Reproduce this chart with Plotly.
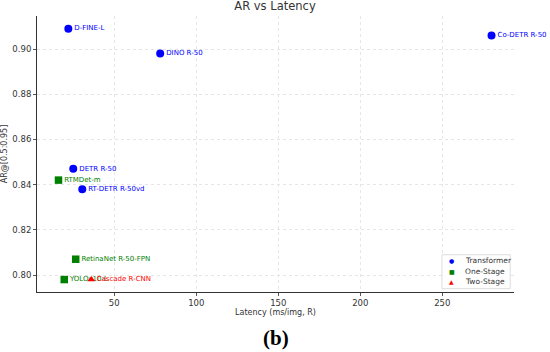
import plotly.graph_objects as go

# Data
tr_names = ["D-FINE-L", "DINO R-50", "Co-DETR R-50", "DETR R-50", "RT-DETR R-50vd"]
tr_lat = [22, 78, 280, 25, 30.5]
tr_ar = [0.909, 0.898, 0.906, 0.847, 0.838]

os_names = ["RTMDet-m", "RetinaNet R-50-FPN", "YOLOv10-L"]
os_lat = [16, 26.5, 19.5]
os_ar = [0.842, 0.807, 0.798]

ts_names = ["Cascade R-CNN"]
ts_lat = [36]
ts_ar = [0.798]

legend_labels = ["Transformer", "One-Stage", "Two-Stage"]
legend_symbols = ["●", "■", "▲"]
legend_colors = ["#0000ff", "#008000", "#ff0000"]

x_ticks = [50, 100, 150, 200, 250]
y_ticks = [0.80, 0.82, 0.84, 0.86, 0.88, 0.90]

FONT = "DejaVu Sans"
fig = go.Figure()

def add(names, xs, ys, color, symbol, size, label):
    fig.add_trace(go.Scatter(
        x=xs, y=ys, mode="markers+text", name=label,
        text=names, textposition="middle right",
        textfont=dict(family=FONT, size=7, color=color),
        marker=dict(color=color, symbol=symbol, size=size, line=dict(width=0)),
        cliponaxis=False, showlegend=False,
    ))

add(tr_names, tr_lat, tr_ar, legend_colors[0], "circle", 8, legend_labels[0])
add(os_names, os_lat, os_ar, legend_colors[1], "square", 7.5, legend_labels[1])
add(ts_names, ts_lat, ts_ar, legend_colors[2], "triangle-up", 7, legend_labels[2])

axis_common = dict(
    showgrid=True, gridcolor="#e6e6e6", griddash="dot", gridwidth=0.8,
    zeroline=False, showline=True, linecolor="#333333", linewidth=1,
    ticks="outside", ticklen=3, tickcolor="#555555",
    tickfont=dict(family=FONT, size=8.5, color="#333333"),
    mirror=False, automargin=False,
)

fig.update_layout(
    width=550, height=352,
    margin=dict(l=37, r=36, t=16, b=60),
    paper_bgcolor="white", plot_bgcolor="white",
    title=dict(text="AR vs Latency", x=0.5, xanchor="center", y=0.995, yanchor="top",
               font=dict(family=FONT, size=11.5, color="#333333")),
    xaxis=dict(range=[2.9, 293.7], tickvals=x_ticks,
               title=dict(text="Latency (ms/img, R)", font=dict(family=FONT, size=8, color="#333333"), standoff=2),
               **axis_common),
    yaxis=dict(range=[0.7925, 0.9146], tickvals=y_ticks, tickformat=".2f",
               title=dict(text="AR@[0.5:0.95]", font=dict(family=FONT, size=8, color="#333333"), standoff=3),
               **axis_common),
    showlegend=False,
)

# Compact legend box (bottom right, inside plot)
fig.add_shape(type="rect", xref="paper", yref="paper",
              x0=0.849, x1=0.992, y0=0.012, y1=0.135,
              line=dict(color="#dddddd", width=1), fillcolor="white", layer="above")
for i, (lab, sym, col) in enumerate(zip(legend_labels, legend_symbols, legend_colors)):
    yy = 0.113 - i * 0.038
    fig.add_annotation(text=sym, xref="paper", yref="paper", x=0.869, y=yy,
                       xanchor="center", yanchor="middle", showarrow=False,
                       font=dict(family=FONT, size=6, color=col))
    fig.add_annotation(text=lab, xref="paper", yref="paper", x=0.893, y=yy,
                       xanchor="left", yanchor="middle", showarrow=False,
                       font=dict(family=FONT, size=7.5, color="#333333"))

fig.add_annotation(text="<b>(b)</b>", xref="paper", yref="paper", x=0.5, y=-0.115,
                   xanchor="center", yanchor="top", showarrow=False,
                   font=dict(family="Liberation Serif", size=21, color="black"))

fig.write_html("out.html", config={"displayModeBar": False},
               post_script="document.body.style.margin='0';")
